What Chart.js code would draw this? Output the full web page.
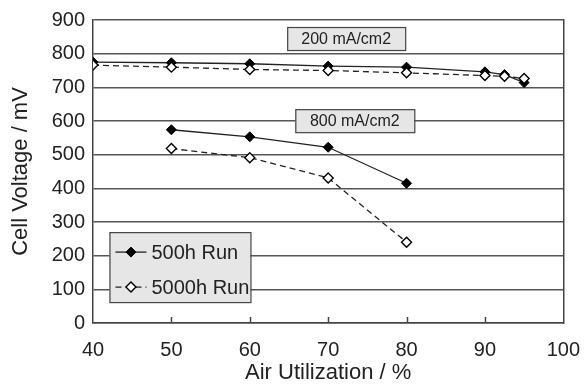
<!DOCTYPE html>
<html>
<head>
<meta charset="utf-8">
<script src="https://cdn.jsdelivr.net/npm/chart.js@4"></script>
<style>
  html, body { margin: 0; padding: 0; background: #fff; }
  #wrap { width: 587px; height: 386px; }
</style>
</head>
<body>
<div id="wrap"><canvas id="chart" width="587" height="386"></canvas></div>
<script>
// air utilization (%) for each current density
const airUtil200 = [40, 50, 60, 70, 80, 90, 92.5, 95];
const airUtil800 = [50, 60, 70, 80];

// cell voltage (mV)
const run500At200 = [775, 773, 770, 763, 760, 746, 738, 714];
const run5000At200 = [766, 760, 753, 750, 743, 735, 733, 726];
const run500At800 = [574, 553, 522, 415];
const run5000At800 = [518, 491, 431, 240];

const seriesNames = ['500h Run', '5000h Run'];
const densityLabels = ['200 mA/cm2', '800 mA/cm2'];
const xTicks = [40, 50, 60, 70, 80, 90, 100];
const yTicks = [0, 100, 200, 300, 400, 500, 600, 700, 800, 900];

const FONT = '"Liberation Sans", Arial, sans-serif';
const INK = '#222';

const toPoints = (xs, ys) => xs.map((x, i) => ({ x: x, y: ys[i] }));

const solid = {
  borderColor: INK, borderWidth: 1.3, pointStyle: 'rectRot', pointRadius: 5,
  pointBackgroundColor: '#000', pointBorderColor: '#000', pointBorderWidth: 1,
  tension: 0, fill: false
};
const dashed = {
  borderColor: INK, borderWidth: 1.3, borderDash: [6, 4], pointStyle: 'rectRot', pointRadius: 5,
  pointBackgroundColor: '#fff', pointBorderColor: '#000', pointBorderWidth: 1.4,
  tension: 0, fill: false
};

// labelled grey boxes + legend, drawn on top of the grid
const overlays = {
  id: 'overlays',
  afterDraw(chart) {
    const { ctx, scales: { x, y } } = chart;
    ctx.save();

    // inward tick marks on the x axis
    ctx.strokeStyle = '#444';
    ctx.lineWidth = 1.5;
    xTicks.slice(1, -1).forEach(v => {
      const px = Math.round(x.getPixelForValue(v)) + 0.5;
      ctx.beginPath();
      ctx.moveTo(px, y.bottom);
      ctx.lineTo(px, y.bottom - 6);
      ctx.stroke();
    });

    const box = (cx, cy, w, h) => {
      const px = x.getPixelForValue(cx) - w / 2;
      const py = y.getPixelForValue(cy) - h / 2;
      ctx.fillStyle = '#e6e6e6';
      ctx.fillRect(px, py, w, h);
      ctx.strokeStyle = '#444';
      ctx.lineWidth = 1.2;
      ctx.strokeRect(px + 0.5, py + 0.5, w, h);
    };

    ctx.font = '16px ' + FONT;
    ctx.textAlign = 'center';
    ctx.textBaseline = 'middle';
    box(72.3, 845, 118, 23);
    ctx.fillStyle = INK;
    ctx.fillText(densityLabels[0], x.getPixelForValue(72.3), y.getPixelForValue(845) + 1);
    box(73.4, 601, 119, 23);
    ctx.fillStyle = INK;
    ctx.fillText(densityLabels[1], x.getPixelForValue(73.4), y.getPixelForValue(601) + 1);

    // legend
    const lx = x.getPixelForValue(42.1), ly = y.getPixelForValue(270);
    const lw = 141, lh = 70;
    ctx.fillStyle = '#e6e6e6';
    ctx.fillRect(lx, ly, lw, lh);
    ctx.strokeStyle = '#444';
    ctx.lineWidth = 1.2;
    ctx.strokeRect(lx + 0.5, ly + 0.5, lw, lh);

    const styles = [solid, dashed];
    ctx.font = '20px ' + FONT;
    ctx.textAlign = 'left';
    seriesNames.forEach((name, i) => {
      const st = styles[i];
      const rowY = ly + 20 + i * 35;
      const x0 = lx + 6, x1 = lx + 37;
      ctx.strokeStyle = INK;
      ctx.lineWidth = 1.3;
      ctx.setLineDash(st.borderDash || []);
      ctx.beginPath();
      ctx.moveTo(x0, rowY);
      ctx.lineTo(x1, rowY);
      ctx.stroke();
      ctx.setLineDash([]);
      const mx = (x0 + x1) / 2, r = 5;
      ctx.beginPath();
      ctx.moveTo(mx, rowY - r);
      ctx.lineTo(mx + r, rowY);
      ctx.lineTo(mx, rowY + r);
      ctx.lineTo(mx - r, rowY);
      ctx.closePath();
      ctx.fillStyle = st.pointBackgroundColor;
      ctx.fill();
      ctx.strokeStyle = '#000';
      ctx.lineWidth = st.pointBorderWidth;
      ctx.stroke();
      ctx.fillStyle = INK;
      ctx.fillText(name, x1 + 5, rowY + 1);
    });

    ctx.restore();
  }
};

new Chart(document.getElementById('chart'), {
  type: 'line',
  data: {
    datasets: [
      Object.assign({ label: seriesNames[1] + ' 200', data: toPoints(airUtil200, run5000At200) }, dashed),
      Object.assign({ label: seriesNames[0] + ' 200', data: toPoints(airUtil200, run500At200) }, solid),
      Object.assign({ label: seriesNames[1] + ' 800', data: toPoints(airUtil800, run5000At800) }, dashed),
      Object.assign({ label: seriesNames[0] + ' 800', data: toPoints(airUtil800, run500At800) }, solid)
    ]
  },
  options: {
    responsive: false,
    animation: false,
    layout: { padding: { top: 17, right: 18, left: 0, bottom: 0 } },
    plugins: { legend: { display: false }, tooltip: { enabled: false } },
    scales: {
      x: {
        type: 'linear', min: 40, max: 100,
        afterBuildTicks: s => { s.ticks = xTicks.map(v => ({ value: v })); },
        afterFit: s => { s.height = 63; },
        grid: { display: false },
        border: { display: true, color: '#444', width: 1.5 },
        ticks: { color: INK, font: { family: FONT, size: 20 }, padding: 7, maxRotation: 0 },
        title: { display: true, text: 'Air Utilization / %', color: INK, font: { family: FONT, size: 22 }, padding: { top: 0, bottom: 0 } }
      },
      y: {
        min: 0, max: 900,
        afterBuildTicks: s => { s.ticks = yTicks.map(v => ({ value: v })); },
        afterFit: s => { s.width = 93; },
        grid: { color: '#555', lineWidth: 1.5, drawTicks: false },
        border: { display: true, color: '#444', width: 1.5 },
        ticks: { color: INK, font: { family: FONT, size: 20 }, padding: 8 },
        title: { display: true, text: 'Cell Voltage / mV', color: INK, font: { family: FONT, size: 22 }, padding: { top: 8, bottom: 0 } }
      },
      x2: {
        type: 'linear', position: 'right', display: true, min: 0, max: 1,
        afterFit: s => { s.width = 0; },
        grid: { display: false },
        ticks: { display: false },
        border: { display: true, color: '#444', width: 1.5 }
      }
    }
  },
  plugins: [overlays]
});
</script>
</body>
</html>
